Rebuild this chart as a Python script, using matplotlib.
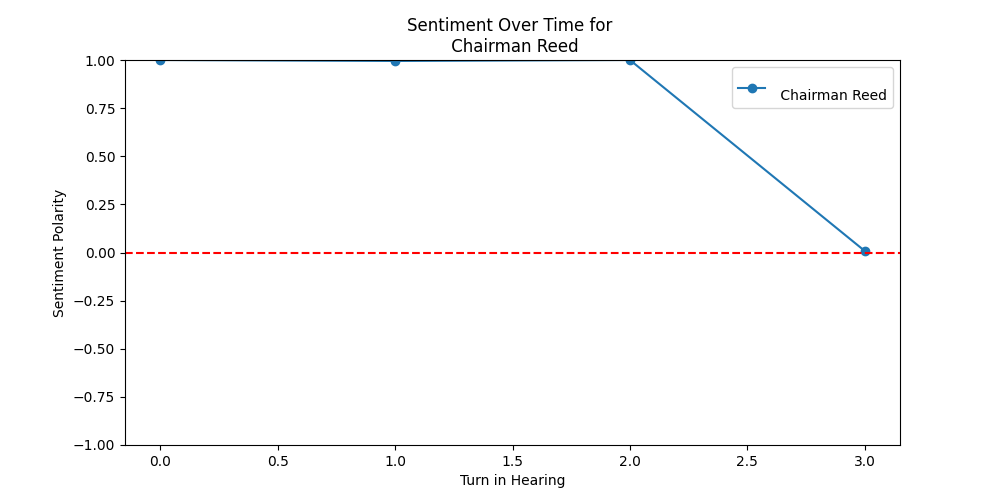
import matplotlib
matplotlib.use("Agg")
from matplotlib import pyplot as plt

# turns and sentiment polarity
turns = [0, 1, 2, 3]
polarity = [1.0, 0.995, 1.0, 0.008]
# speaker name as parsed from the transcript (keeps its newline and space)
speaker = "\n Chairman Reed"

plt.figure(figsize=(10, 5), dpi=100)
plt.plot(turns, polarity, marker='o', label=speaker)
plt.axhline(0, color='red', linestyle='--')
plt.ylim(-1, 1)
plt.title(f"Sentiment Over Time for {speaker}")
plt.xlabel("Turn in Hearing")
plt.ylabel("Sentiment Polarity")
plt.legend()
plt.savefig("out.png")
